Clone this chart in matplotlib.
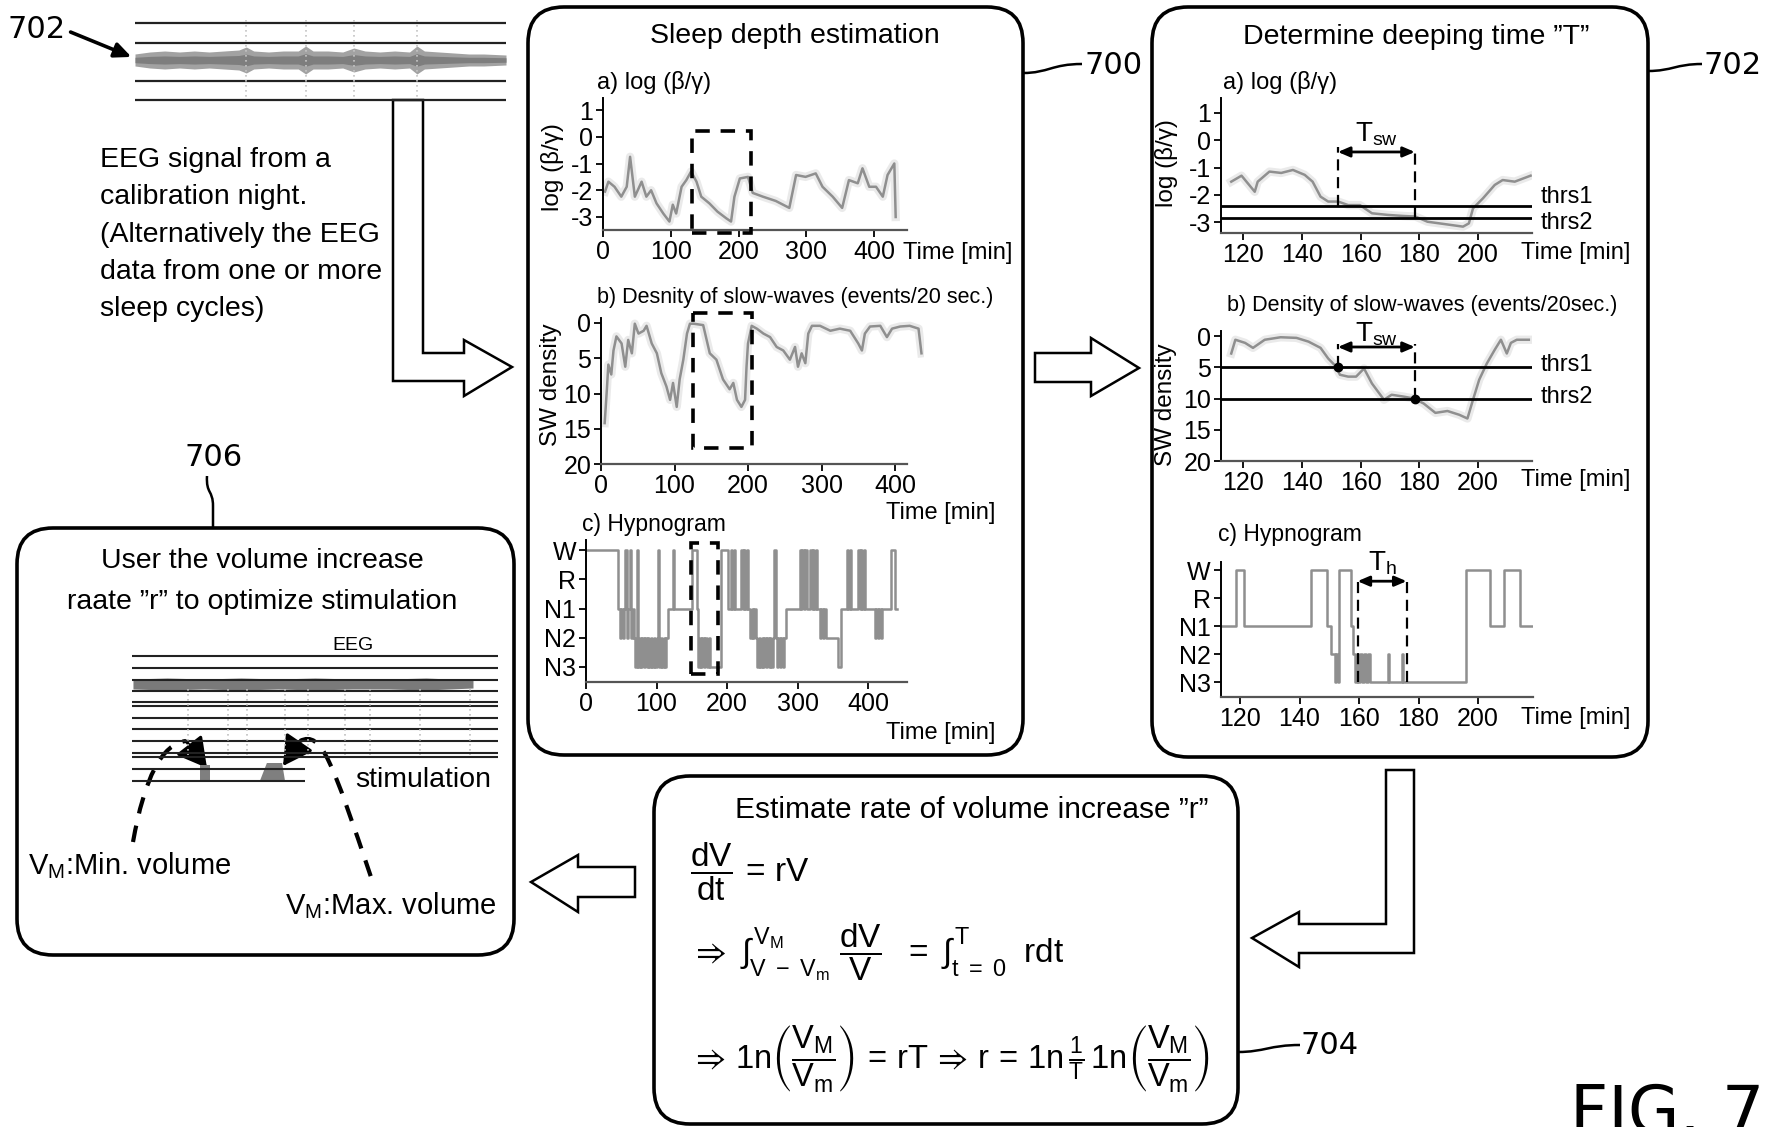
import matplotlib
matplotlib.use('Agg')
import matplotlib.pyplot as plt
from matplotlib.patches import FancyBboxPatch, Polygon, Rectangle, PathPatch
from matplotlib.path import Path

W, H = 1773, 1127
SANS = ['Liberation Sans', 'DejaVu Sans']
plt.rcParams['font.family'] = SANS
plt.rcParams['axes.unicode_minus'] = False
plt.rcParams['mathtext.fontset'] = 'custom'
plt.rcParams['mathtext.rm'] = 'Liberation Sans'
plt.rcParams['mathtext.it'] = 'Liberation Sans'
plt.rcParams['mathtext.bf'] = 'Liberation Sans:bold'
plt.rcParams['mathtext.sf'] = 'Liberation Sans'
plt.rcParams['mathtext.fallback'] = 'stixsans'

# ---------------- data ----------------
# whole-night log(beta/gamma): (time [min], value)
night_logbg = [(3, -2.05), (8, -1.68), (17, -1.87), (27, -2.24), (35, -1.87), (40, -0.75),
               (47, -2.24), (57, -1.68), (64, -2.24), (71, -2.0), (79, -2.49), (89, -2.87),
               (98, -3.17), (103, -2.54), (108, -2.87), (116, -1.87), (123, -1.62), (130, -1.3),
               (138, -1.68), (145, -2.24), (157, -2.49), (169, -2.8), (182, -3.05), (189, -3.17),
               (194, -2.24), (202, -1.56), (214, -1.5), (221, -2.1), (236, -2.24), (255, -2.4),
               (275, -2.66), (285, -1.43), (299, -1.5), (314, -1.37), (324, -1.87), (339, -2.24),
               (353, -2.66), (363, -1.62), (376, -1.74), (383, -1.18), (393, -1.87), (403, -1.87),
               (413, -2.24), (420, -1.43), (430, -1.0), (432, -3.0)]
# whole-night slow-wave density (events/20 s)
night_sw = [(5, 14.2), (8, 9.4), (10, 5.9), (14, 7.3), (17, 3.9), (21, 1.9), (28, 2.9), (33, 6.2),
            (37, 2.4), (42, 4.3), (46, 0.1), (51, 1.5), (58, 1.1), (62, 0.4), (69, 2.9), (76, 4.3),
            (82, 7.1), (89, 9.0), (94, 10.9), (98, 8.5), (103, 11.9), (107, 8.0), (112, 5.2),
            (117, 1.5), (121, 0.1), (126, 0.1), (139, 0.3), (148, 4.3), (157, 5.2), (166, 8.0),
            (175, 9.4), (180, 8.5), (185, 10.9), (191, 11.9), (196, 10.9), (198, 6.2), (200, 2.9),
            (205, 0.4), (212, 0.8), (221, 1.5), (230, 2.0), (239, 3.4), (248, 3.9), (257, 5.2),
            (264, 3.4), (268, 6.2), (273, 4.3), (278, 5.7), (282, 1.5), (287, 0.4), (298, 0.4),
            (312, 1.1), (325, 0.8), (339, 1.1), (350, 2.9), (355, 3.9), (359, 1.5), (366, 0.5),
            (380, 0.4), (389, 2.0), (396, 0.8), (407, 0.5), (420, 0.4), (432, 0.8), (436, 4.3)]
# whole-night hypnogram: (stage start [min], stage) with W=4, R=3, N1=2, N2=1, N3=0
night_hyp = [(0, 4), (46, 2), (48, 1), (50, 2), (52, 1), (54, 2), (56, 4), (58, 1), (60, 2), (62, 4),
             (64, 1), (66, 2), (68, 1), (70, 0), (72, 4), (74, 0), (76, 1), (78, 0), (80, 1), (82, 0),
             (84, 1), (86, 0), (88, 1), (90, 0), (92, 1), (94, 0), (96, 1), (98, 0), (100, 1), (102, 4),
             (104, 0), (106, 1), (108, 0), (110, 1), (112, 0), (114, 1), (117, 2), (123, 4), (125, 2),
             (150, 4), (157, 2), (159, 0), (161, 1), (163, 0), (165, 1), (167, 0), (169, 1), (171, 0),
             (174, 1), (176, 0), (192, 4), (202, 2), (205, 4), (207, 2), (210, 4), (212, 2), (220, 4),
             (222, 2), (224, 4), (226, 2), (228, 4), (230, 2), (233, 1), (235, 2), (237, 1), (239, 2),
             (241, 1), (243, 0), (245, 1), (247, 0), (249, 1), (251, 0), (253, 1), (255, 0), (257, 1),
             (259, 0), (261, 1), (263, 0), (265, 1), (267, 4), (269, 1), (271, 0), (273, 1), (275, 0),
             (277, 1), (279, 0), (281, 1), (284, 2), (303, 4), (305, 2), (307, 4), (309, 2), (311, 4),
             (313, 2), (318, 4), (320, 2), (322, 4), (324, 2), (326, 4), (328, 2), (332, 1), (334, 2),
             (336, 1), (338, 2), (340, 1), (358, 0), (361, 2), (370, 4), (372, 2), (374, 4), (376, 2),
             (386, 4), (388, 2), (390, 4), (392, 2), (394, 4), (396, 2), (410, 1), (412, 2), (414, 1),
             (416, 2), (418, 1), (420, 2), (433, 4), (438, 2), (441, 2)]
# zoomed cycle (115-218 min)
cycle_logbg = [(116, -1.52), (119.5, -1.3), (124, -1.89), (125, -1.52), (129, -1.15), (133, -1.2),
               (137, -1.09), (141, -1.27), (143.7, -1.52), (146.4, -2.07), (149, -2.25), (152.4, -2.25),
               (155.8, -2.38), (159.8, -2.38), (163.9, -2.68), (169.3, -2.74), (174.7, -2.78),
               (178.7, -2.8), (182.8, -2.99), (188.2, -3.07), (194.9, -3.17), (196.9, -3.05),
               (198.3, -2.5), (201.7, -2.13), (205.7, -1.64), (208.4, -1.46), (212.5, -1.52), (217.9, -1.3)]
cycle_sw = [(116, 2.8), (117.4, 0.6), (120.7, 1.1), (123.4, 1.9), (127.4, 0.6), (132.8, 0.2),
            (138.2, 0.3), (142.3, 0.9), (146.4, 1.9), (149, 3.6), (151.5, 4.8), (153, 6.2), (155.8, 6.5),
            (158.5, 6.5), (161.2, 5.2), (163.9, 7.6), (168, 10.2), (170.6, 9.4), (174.7, 9.7),
            (178.1, 10.0), (181.5, 10.8), (185.5, 12.3), (189.6, 12.0), (193.6, 12.6), (196.4, 13.2),
            (198.3, 10.2), (200.4, 7.0), (203, 4.4), (205.7, 2.2), (207.8, 0.6), (209.8, 2.8),
            (211.2, 1.1), (213.2, 0.6), (217.3, 0.6)]
cycle_hyp = [(113.5, 2), (118.5, 4), (121.3, 2), (143.8, 4), (149.2, 2), (150.5, 1), (151.8, 0),
             (152.3, 1), (152.8, 0), (153.2, 4), (157.2, 2), (158, 1), (158.6, 0), (159.2, 1),
             (159.8, 0), (160.4, 1), (161, 0), (161.6, 1), (162.2, 0), (163, 1), (163.6, 0),
             (169.6, 1), (170.2, 0), (174.3, 1), (174.9, 0), (195.9, 4), (203.9, 2), (208.6, 4),
             (214, 2), (218, 2)]
thr_logbg = [-2.4, -2.85]          # thrs1, thrs2 for log(beta/gamma)
thr_sw = [5, 10]                   # thrs1, thrs2 for SW density
t_sw = (152.3, 178.5)              # T_sw interval
t_h = (159.5, 176.0)               # T_h interval
sel_logbg = (132, 219, -3.6, 0.2)  # selected window boxes (t0, t1, v0, v1)
sel_sw = (125, 205, -1.4, 17.7)
sel_hyp = (149, 187, -0.25, 4.25)

# EEG strip envelope (fraction of record, half amplitude)
strip_env = [(0.0, 6), (0.04, 8), (0.08, 9), (0.12, 8), (0.16, 9), (0.20, 8), (0.24, 9), (0.28, 10),
             (0.30, 13), (0.32, 9), (0.36, 8), (0.40, 9), (0.44, 9), (0.46, 14), (0.48, 9), (0.52, 9),
             (0.56, 8), (0.59, 12), (0.62, 9), (0.66, 8), (0.70, 9), (0.74, 8), (0.76, 14), (0.78, 9),
             (0.82, 8), (0.86, 7), (0.90, 6), (0.94, 6), (1.0, 5)]
strip_channels = [-37, -17, 21, 40]
strip_bursts = [0.30, 0.46, 0.59, 0.76]
# stimulation EEG panel
stim_channels_full = [-59, -47, -35, -24, -13, -9, 3, 14, 26, 38, 42]
stim_channels_short = [54, 66]
stim_band = [(0.008, 5), (0.1, 6), (0.2, 5), (0.3, 6), (0.4, 5), (0.5, 6), (0.6, 5), (0.7, 5),
             (0.8, 6), (0.927, 4)]
stim_spikes = [0.157, 0.265, 0.316, 0.419, 0.481, 0.581, 0.649, 0.784, 0.919]
stim_min = [(0.189, 50), (0.216, 50), (0.216, 66), (0.189, 66)]
stim_max = [(0.370, 48), (0.411, 48), (0.419, 66), (0.351, 66)]

caption_lines = ['EEG signal from a', 'calibration night.', '(Alternatively the EEG',
                 'data from one or more', 'sleep cycles)']

GRAY = '#8f8f8f'

# ---------------- figure ----------------
fig = plt.figure(figsize=(W / 100, H / 100), dpi=100)
cv = fig.add_axes([0, 0, 1, 1])
cv.set_xlim(0, W)
cv.set_ylim(H, 0)
cv.axis('off')


def add_ax(xlim, ylim, xcal, ycal):
    xv1, xp1, xv2, xp2 = xcal
    yv1, yp1, yv2, yp2 = ycal
    sx = (xp2 - xp1) / (xv2 - xv1)
    sy = (yp2 - yp1) / (yv2 - yv1)
    left = xp1 + (xlim[0] - xv1) * sx
    right = xp1 + (xlim[1] - xv1) * sx
    bottom = yp1 + (ylim[0] - yv1) * sy
    top = yp1 + (ylim[1] - yv1) * sy
    ax = fig.add_axes([left / W, 1 - bottom / H, (right - left) / W, (bottom - top) / H])
    ax.set_xlim(*xlim)
    ax.set_ylim(*ylim)
    ax.set_facecolor('none')
    return ax


def style(ax, xticks, yticks, yticklabels=None, xbounds=None):
    for s in ['top', 'right']:
        ax.spines[s].set_visible(False)
    ax.spines['left'].set_linewidth(1.4)
    ax.spines['bottom'].set_linewidth(1.6)
    ax.spines['bottom'].set_color('#555555')
    ax.set_xticks(xticks)
    ax.set_yticks(yticks)
    if yticklabels is not None:
        ax.set_yticklabels(yticklabels)
    ax.tick_params(direction='out', length=5, width=1.3, labelsize=18, pad=2)
    if xbounds is not None:
        ax.spines['bottom'].set_bounds(*xbounds)


def curve(ax, pts):
    t, v = zip(*pts)
    ax.plot(t, v, color=GRAY, lw=6, alpha=0.18, solid_joinstyle='round')
    ax.plot(t, v, color=GRAY, lw=1.8)


def hyp(ax, pts):
    t, s = zip(*pts)
    ax.step(t, s, where='post', color=GRAY, lw=1.8)


def sel_box(ax, b):
    t0, t1, v0, v1 = b
    ax.add_patch(Rectangle((t0, v0), t1 - t0, v1 - v0, fill=False, ec='black', lw=2.6,
                           ls=(0, (4, 3)), clip_on=False, zorder=5))


def T(x, y, s, size, ha='left', va='center', **kw):
    cv.text(x, y, s, fontsize=size, ha=ha, va=va, **kw)


# boxes
for (x0, y0, x1, y1) in [(528, 7, 1023, 755), (1152, 7, 1648, 757), (654, 776, 1238, 1124),
                         (17, 528, 514, 955)]:
    cv.add_patch(FancyBboxPatch((x0, y0), x1 - x0, y1 - y0,
                                boxstyle='round,pad=0,rounding_size=36',
                                fc='none', ec='black', lw=2.6))

# hollow arrows
arrows = [
    [(393, 100), (423, 100), (423, 353), (464, 353), (464, 340), (512, 367), (464, 396), (464, 381), (393, 381)],
    [(1035, 353), (1091, 353), (1091, 338), (1139, 368), (1091, 396), (1091, 382), (1035, 382)],
    [(1386, 770), (1414, 770), (1414, 953), (1299, 953), (1299, 967), (1252, 938), (1299, 912), (1299, 924), (1386, 924)],
    [(635, 867), (578, 867), (578, 855), (531, 882), (578, 912), (578, 897), (635, 897)],
]
for a in arrows:
    cv.add_patch(Polygon(a, closed=True, fc='white', ec='black', lw=1.8, joinstyle='miter'))

# reference numerals & leaders
ND = ['DejaVu Sans']
T(37, 29, '702', 22, ha='center', family=ND)
cv.annotate('', xy=(134, 58), xytext=(68, 31),
            arrowprops=dict(arrowstyle='-|>,head_length=1.0,head_width=0.45', lw=2.6, color='black'))
T(1114, 66, '700', 22, ha='center', family=ND)
T(1733, 66, '702', 22, ha='center', family=ND)
T(1330, 1046, '704', 22, ha='center', family=ND)
T(214, 457, '706', 22, ha='center', family=ND)
T(1667, 1082, 'FIG. 7', 48, ha='center', va='top', family=ND)
leaders = [
    [(1023, 73), (1048, 73), (1052, 64), (1082, 64)],
    [(1648, 71), (1672, 71), (1676, 64), (1702, 64)],
    [(1238, 1052), (1264, 1052), (1270, 1045), (1300, 1045)],
]
for p in leaders:
    cv.add_patch(PathPatch(Path(p, [Path.MOVETO, Path.CURVE4, Path.CURVE4, Path.CURVE4]),
                           fc='none', ec='black', lw=1.8))
cv.add_patch(PathPatch(Path([(213, 528), (213, 506), (213, 490), (206, 494), (207, 476)],
                            [Path.MOVETO, Path.LINETO, Path.CURVE4, Path.CURVE4, Path.CURVE4]),
                       fc='none', ec='black', lw=1.8))

# caption text
for i, line in enumerate(caption_lines):
    T(100, 160 + i * 37.3, line, 20.5)

# ---------------- top-left EEG strip ----------------
ax = add_ax((0, 1), (45, -45), (0, 135, 1, 506), (0, 60, 10, 70))
ax.axis('off')
sp, sh = zip(*strip_env)
ax.fill_between(sp, [-h for h in sh], sh, color='#a2a2a2', lw=0)
ax.fill_between(sp, [-h * 0.45 for h in sh], [h * 0.45 for h in sh], color='#7e7e7e', lw=0)
for c in strip_channels:
    ax.axhline(c, color='#222222', lw=1.6)
ax.vlines(strip_bursts, -40, 40, color='#c4c4c4', lw=1.2, linestyles=(0, (1, 2)))

# ---------------- box 700 ----------------
T(795, 36, 'Sleep depth estimation', 20.5, ha='center')
# a)
ax = add_ax((0, 448), (-3.5, 1.45), (0, 603, 400, 874), (1, 110, -3, 217))
style(ax, [0, 100, 200, 300, 400], [1, 0, -1, -2, -3])
curve(ax, night_logbg)
sel_box(ax, sel_logbg)
T(597, 83, 'a) log (β/γ)', 17)
T(552, 167, 'log (β/γ)', 17.5, ha='center', rotation=90)
T(903, 253, 'Time [min]', 17)
# b)
ax = add_ax((0, 440), (20, -0.7), (0, 601, 400, 895), (0, 323, 20, 464))
style(ax, [0, 100, 200, 300, 400], [0, 5, 10, 15, 20], xbounds=(0, 416))
curve(ax, night_sw)
sel_box(ax, sel_sw)
T(597, 297, 'b) Desnity of slow-waves (events/20 sec.)', 15.5)
T(551, 385, 'SW density', 17.5, ha='center', rotation=90)
T(995, 513, 'Time [min]', 17, ha='right')
# c)
ax = add_ax((0, 455), (-0.52, 4.35), (0, 586, 400, 868), (0, 667, 4, 550))
style(ax, [0, 100, 200, 300, 400], [4, 3, 2, 1, 0], ['W', 'R', 'N1', 'N2', 'N3'])
hyp(ax, night_hyp)
sel_box(ax, sel_hyp)
T(582, 525, 'c) Hypnogram', 16.5)
T(995, 733, 'Time [min]', 17, ha='right')

# ---------------- box 702 ----------------
T(1416, 37, 'Determine deeping time \u201dT\u201d', 20.5, ha='center')
xt = [120, 140, 160, 180, 200]
# a)
ax = add_ax((112.5, 218.5), (-3.4, 1.55), (120, 1243, 200, 1478), (1, 113, -3, 222))
style(ax, xt, [1, 0, -1, -2, -3])
curve(ax, cycle_logbg)
for th in thr_logbg:
    ax.axhline(th, color='black', lw=2)
ax.vlines(t_sw[0], thr_logbg[0], -0.25, colors='black', lw=1.6, linestyles=(0, (5, 3)))
ax.vlines(t_sw[1], thr_logbg[1], -0.25, colors='black', lw=1.6, linestyles=(0, (5, 3)))
ax.annotate('', xy=(t_sw[1], -0.43), xytext=(t_sw[0], -0.43),
            arrowprops=dict(arrowstyle='<|-|>,head_length=0.7,head_width=0.3', lw=2, color='black',
                            shrinkA=0, shrinkB=0))
ax.text(sum(t_sw) / 2, -0.3, r'$\mathregular{T_{sw}}$', fontsize=20, ha='center', va='bottom')
T(1223, 82, 'a) log (β/γ)', 17)
T(1166, 163, 'log (β/γ)', 17.5, ha='center', rotation=90)
T(1521, 253, 'Time [min]', 17)
T(1541, 197, 'thrs1', 17)
T(1541, 223, 'thrs2', 17)
# b)
ax = add_ax((112.5, 218.5), (20, -0.8), (120, 1243, 200, 1478), (0, 336, 20, 461))
style(ax, xt, [0, 5, 10, 15, 20])
curve(ax, cycle_sw)
for th in thr_sw:
    ax.axhline(th, color='black', lw=2)
ax.vlines(t_sw[0], thr_sw[0], 1.3, colors='black', lw=1.6, linestyles=(0, (5, 3)))
ax.vlines(t_sw[1], thr_sw[1], 1.3, colors='black', lw=1.6, linestyles=(0, (5, 3)))
ax.plot(t_sw, thr_sw, 'o', color='black', ms=6)
ax.annotate('', xy=(t_sw[1], 1.76), xytext=(t_sw[0], 1.76),
            arrowprops=dict(arrowstyle='<|-|>,head_length=0.7,head_width=0.3', lw=2, color='black',
                            shrinkA=0, shrinkB=0))
ax.text(sum(t_sw) / 2, -0.35, r'$\mathregular{T_{sw}}$', fontsize=20, ha='center', va='center')
T(1227, 305, 'b) Density of slow-waves (events/20sec.)', 15.5)
T(1166, 405, 'SW density', 17.5, ha='center', rotation=90)
T(1521, 480, 'Time [min]', 17)
T(1541, 365, 'thrs1', 17)
T(1541, 397, 'thrs2', 17)
# c)
ax = add_ax((113.5, 218.5), (-0.53, 4.3), (120, 1240, 200, 1478), (0, 682, 4, 570))
style(ax, xt, [4, 3, 2, 1, 0], ['W', 'R', 'N1', 'N2', 'N3'])
hyp(ax, cycle_hyp)
ax.vlines(t_h, 0, 3.8, colors='black', lw=1.6, linestyles=(0, (5, 3)))
ax.annotate('', xy=(t_h[1], 3.6), xytext=(t_h[0], 3.6),
            arrowprops=dict(arrowstyle='<|-|>,head_length=0.7,head_width=0.3', lw=2, color='black',
                            shrinkA=0, shrinkB=0))
ax.text(sum(t_h) / 2, 3.75, r'$\mathregular{T_{h}}$', fontsize=20, ha='center', va='bottom')
T(1218, 535, 'c) Hypnogram', 16.5)
T(1521, 718, 'Time [min]', 17)

# ---------------- box 704 ----------------
T(972, 810, 'Estimate rate of volume increase \u201dr\u201d', 21.5, ha='center')
T(690, 872, r'$\dfrac{dV}{dt}\,=\,rV$', 24)
T(690, 952, r'$\Rightarrow\ \int_{V\ -\ V_m}^{V_M}\ \dfrac{dV}{V}\ \ =\ \int_{t\ =\ 0}^{T}\ \ rdt$', 24)
T(690, 1058, r'$\Rightarrow\,1n\left(\dfrac{V_M}{V_m}\right)\,=\,rT\,\Rightarrow\,r\,=\,1n\,\frac{1}{T}\,1n\left(\dfrac{V_M}{V_m}\right)$', 23.5)

# ---------------- box 706 ----------------
T(262, 561, 'User the volume increase', 20.5, ha='center')
T(262, 602, 'raate \u201dr\u201d to optimize stimulation', 20.5, ha='center')
T(353, 645, 'EEG', 14, ha='center')
ax = add_ax((0, 1), (75, -75), (0, 130, 1, 500), (0, 715, 10, 725))
ax.axis('off')
for c in stim_channels_full:
    ax.hlines(c, 0.005, 0.995, color='#222222', lw=1.5)
for c in stim_channels_short:
    ax.hlines(c, 0.005, 0.473, color='#222222', lw=1.5)
bp, bh = zip(*stim_band)
ax.fill_between(bp, [-31 - h for h in bh], [-31 + h for h in bh], color='#7a7a7a', lw=0)
ax.vlines(stim_spikes, -26, 40, color='#c0c0c0', lw=1.2, linestyles=(0, (1, 2)))
ax.add_patch(Polygon(stim_min, closed=True, fc='#7f7f7f', ec='none'))
ax.add_patch(Polygon(stim_max, closed=True, fc='#7f7f7f', ec='none'))
for tip, tail in [((207, 768), (186, 741)), ((283, 766), (300, 741))]:
    cv.annotate('', xy=tip, xytext=tail,
                arrowprops=dict(arrowstyle='-|>,head_length=0.9,head_width=0.5', lw=2.2,
                                color='black', shrinkA=0, shrinkB=0, mutation_scale=20))
cv.add_patch(PathPatch(Path([(133, 842), (150, 745), (186, 741)], [Path.MOVETO, Path.CURVE3, Path.CURVE3]),
                       fc='none', ec='black', lw=3, ls=(0, (4, 3))))
cv.add_patch(PathPatch(Path([(300, 741), (322, 730), (332, 762), (372, 880)],
                            [Path.MOVETO, Path.CURVE4, Path.CURVE4, Path.CURVE4]),
                       fc='none', ec='black', lw=3, ls=(0, (4, 3))))
T(355, 780, 'stimulation', 20.5)
T(28, 866, r'V$_\mathregular{M}$:Min. volume', 21)
T(285, 906, r'V$_\mathregular{M}$:Max. volume', 21)

fig.savefig('out.png', dpi=100)
